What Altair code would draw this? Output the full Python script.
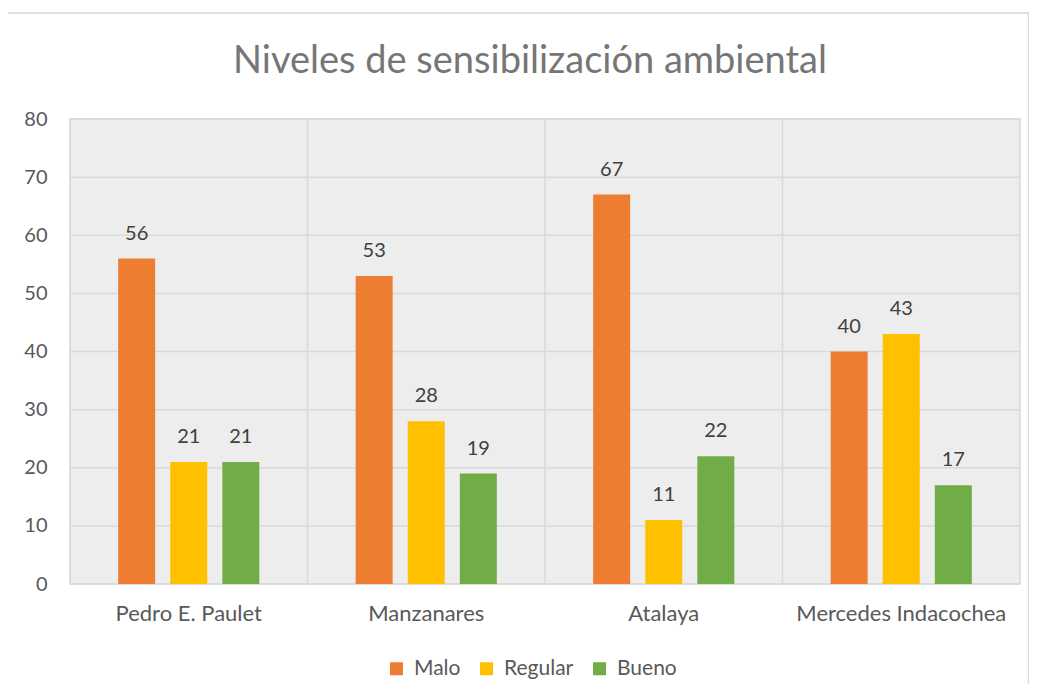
import altair as alt
import pandas as pd

categories = ["Pedro E. Paulet", "Manzanares", "Atalaya", "Mercedes Indacochea"]
series = ["Malo", "Regular", "Bueno"]
malo = [56, 53, 67, 40]
regular = [21, 28, 11, 43]
bueno = [21, 19, 22, 17]
colors = ["#ED7D31", "#FFC000", "#70AD47"]
y_ticks = [0, 10, 20, 30, 40, 50, 60, 70, 80]

rows = []
for i, c in enumerate(categories):
    for s, vals in zip(series, [malo, regular, bueno]):
        rows.append({"cat": c, "serie": s, "valor": vals[i]})
df = pd.DataFrame(rows)

W, H = 950, 465
FONT = "Lato"
GRID = "#D9D9D9"

x_scale = alt.Scale(domain=categories, paddingInner=0, paddingOuter=0)
y_scale = alt.Scale(domain=[0, 80], nice=False)

x_axis = alt.Axis(labelAngle=0, labelFontSize=22, labelColor="#595959",
                  labelFont=FONT, labelPadding=19, ticks=False, domain=False,
                  grid=False, bandPosition=0.5, labelAlign="center", labelLimit=0)
y_axis = alt.Axis(values=y_ticks, labelFontSize=20, labelColor="#595959",
                  labelFont=FONT, labelPadding=23, ticks=False, domain=False,
                  grid=False)

# outer chart frame (decoration)
frame = alt.Chart(pd.DataFrame({"d": [0]})).mark_rect(
    fill=None, stroke=GRID, strokeWidth=1.5, clip=False).encode(
    x=alt.value(-64), x2=alt.value(W + 8.5), y=alt.value(-106), y2=alt.value(H + 140))

hgrid = alt.Chart(pd.DataFrame({"valor": y_ticks})).mark_rule(
    color=GRID, strokeWidth=1.5).encode(
    y=alt.Y("valor:Q", scale=y_scale, title=None, axis=y_axis))

vgrid = alt.Chart(pd.DataFrame({"cat": categories})).mark_rule(
    color=GRID, strokeWidth=1.5).encode(
    x=alt.X("cat:N", sort=categories, scale=x_scale, bandPosition=0,
            title=None, axis=x_axis))

base = alt.Chart(df).encode(
    x=alt.X("cat:N", sort=categories, title=None, scale=x_scale, axis=x_axis),
    xOffset=alt.XOffset("serie:N", sort=series,
                        scale=alt.Scale(paddingInner=0.29, paddingOuter=0.925)),
    y=alt.Y("valor:Q", title=None, scale=y_scale, axis=y_axis),
)

bars = base.mark_bar().encode(
    color=alt.Color("serie:N", sort=series,
                    scale=alt.Scale(domain=series, range=colors),
                    legend=alt.Legend(title=None, orient="none", direction="horizontal",
                                      legendX=316, legendY=539, symbolType="square",
                                      symbolSize=169, symbolStrokeWidth=0,
                                      labelFontSize=21, labelColor="#595959",
                                      labelFont=FONT, labelOffset=7, columnPadding=15))
)
labels = base.mark_text(baseline="alphabetic", dy=-19, fontSize=20,
                        color="#404040", font=FONT).encode(text="valor:Q")

chart = alt.layer(frame, hgrid, vgrid, bars, labels).properties(
    width=W, height=H,
    title=alt.TitleParams("Niveles de sensibilización ambiental", fontSize=38,
                          font=FONT, fontWeight="normal", color="#767676",
                          frame="group", offset=-69, dx=-15, anchor="middle"),
    autosize=alt.AutoSizeParams(type="none"),
    padding={"left": 62, "top": 111, "right": 9, "bottom": 100},
).configure_view(fill="#EDEDED", stroke=GRID, strokeWidth=1.5)

chart.save("out.html", embed_options={"renderer": "svg", "actions": False})
